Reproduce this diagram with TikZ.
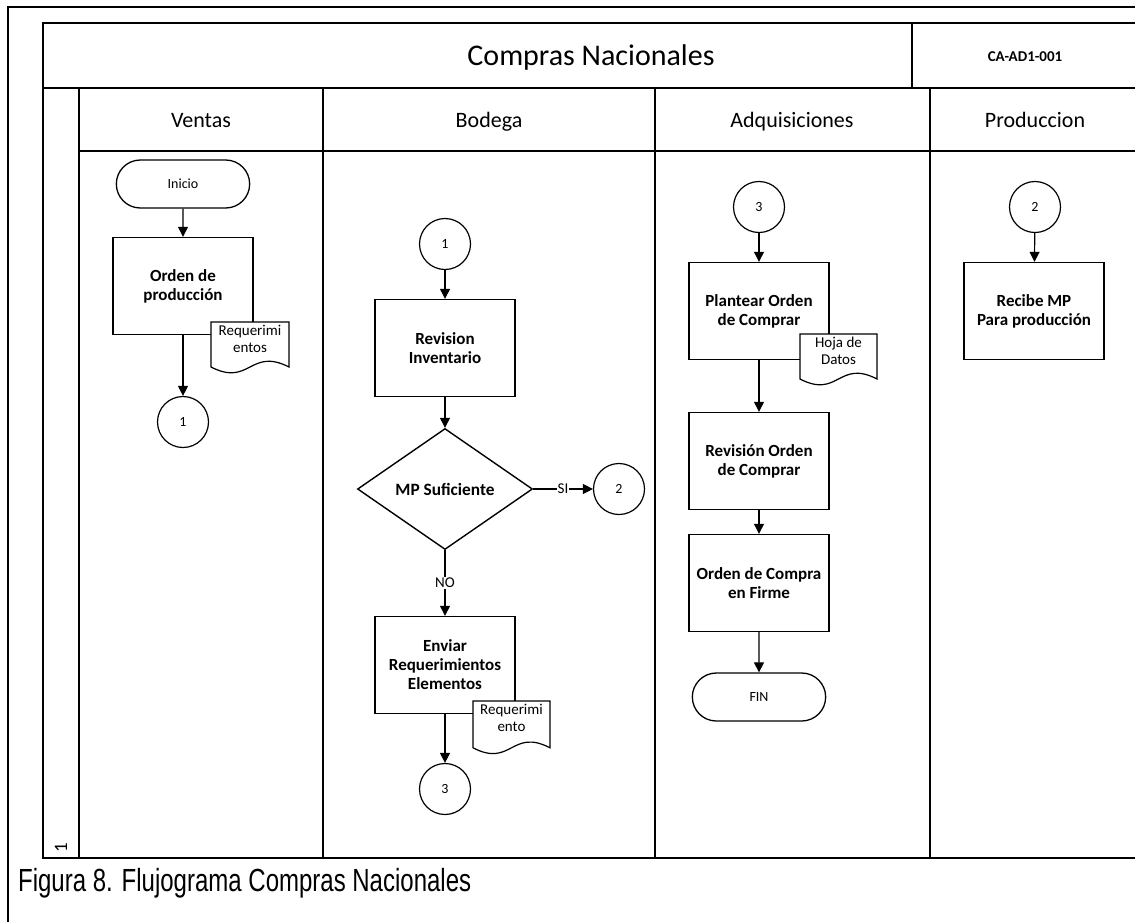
\documentclass[tikz,border=0pt]{standalone}
\usepackage{fontspec}
\setmainfont{Carlito}
\newfontfamily\capfont{Liberation Sans}
\usetikzlibrary{arrows.meta,shapes.geometric,shapes.misc}
\tikzset{
  frame/.style={line width=1.6pt},
  lane/.style={line width=1.5pt},
  arr/.style={line width=1.2pt,-{Triangle[length=10pt,width=10pt]}},
  procbox/.style={draw,line width=1.4pt,fill=white,minimum width=140pt,minimum height=97pt,
    align=center,font=\fontsize{17}{19}\selectfont\bfseries,inner sep=2pt},
  term/.style={draw,line width=1.3pt,rounded rectangle,minimum width=140pt,minimum height=48pt,
    font=\fontsize{14}{16}\selectfont},
  conn/.style={draw,line width=1.2pt,circle,minimum size=51pt,inner sep=0pt,
    font=\fontsize{14}{16}\selectfont},
  decision/.style={draw,line width=1.4pt,diamond,aspect=1.45,minimum width=175pt,minimum height=121pt,
    inner sep=0pt,font=\fontsize{17.3}{19}\selectfont\bfseries},
  hdr/.style={font=\fontsize{22}{26}\selectfont,anchor=base},
  doctext/.style={align=center,font=\fontsize{15}{16.5}\selectfont,inner sep=0pt},
  lbl/.style={fill=white,inner sep=1pt,font=\fontsize{15}{17}\selectfont},
}
% document shape: #1 name, #2 left x, #3 top y, #4 width, #5 height, #6 text
\newcommand\docshp[6]{%
  \filldraw[line width=1.2pt,fill=white]
    (#2,#3) -- ++(#4,0) -- ++(0,{#5*0.9})
    .. controls ++({-#4*0.5},-20) and ++({#4*0.5},20) .. ++({-#4},0) -- cycle;
  \node[doctext,anchor=north] (#1) at ({#2+#4/2},{#3+3}) {#6};
}
\begin{document}
\begin{tikzpicture}[x=1pt,y=-1pt]
\useasboundingbox (0,0) rectangle (1135,922);
% outer frame
\draw[frame] (1135,7) -- (8,7) -- (8,922);
% inner frame
\draw[frame] (1135,23) -- (43,23) -- (43,858) -- (1135,858);
\draw[frame] (43,88) -- (1135,88);
\draw[frame] (912,23) -- (912,88);
\draw[lane] (79,151) -- (1135,151);
\draw[lane] (79,88) -- (79,858);
\draw[lane] (323,88) -- (323,858);
\draw[lane] (655,88) -- (655,858);
\draw[lane] (930,88) -- (930,858);
% titles
\node[font=\fontsize{30}{34}\selectfont,anchor=base] (title) at (591,65) {Compras Nacionales};
\node[font=\fontsize{15}{17}\selectfont\bfseries,anchor=base] (code) at (1025,61) {CA-AD1-001};
\node[hdr] (hv) at (201,127) {Ventas};
\node[hdr] (hb) at (489,127) {Bodega};
\node[hdr] (ha) at (792,127) {Adquisiciones};
\node[hdr] (hp) at (1035,127) {Produccion};
\node[rotate=90,font=\fontsize{19}{20}\selectfont] (pool) at (61,848) {1};
% Ventas
\node[term] (inicio) at (183,184) {Inicio};
\node[procbox] (orden) at (183,286) {Orden de\\producción};
\node[conn] (v1) at (183,422) {1};
\draw[arr] (inicio) -- (orden);
\draw[arr] (orden) -- (v1);
\docshp{doc1}{211}{322}{78}{50}{Requerimi\\entos}
% Bodega
\node[conn] (b1) at (445,244) {1};
\node[procbox] (revinv) at (445,348) {Revision\\Inventario};
\node[decision] (mp) at (445,489) {MP Suficiente};
\node[conn] (b2) at (619,489) {2};
\node[procbox] (enviar) at (445,665) {Enviar\\Requerimientos\\Elementos};
\node[conn] (b3) at (445,789) {3};
\draw[arr] (b1) -- (revinv);
\draw[arr] (revinv) -- (mp);
\draw[arr] (mp) -- node[lbl] {SI} (b2);
\draw[arr] (mp) -- node[lbl] {NO} (enviar);
\draw[arr] (enviar) -- (b3);
\docshp{doc2}{473}{701}{77}{52}{Requerimi\\ento}
% Adquisiciones
\node[conn] (a3) at (759,207) {3};
\node[procbox] (plantear) at (759,311) {Plantear Orden\\de Comprar};
\node[procbox] (revorden) at (759,461) {Revisión Orden\\de Comprar};
\node[procbox] (firme) at (759,583) {Orden de Compra\\en Firme};
\node[term] (fin) at (759,697) {FIN};
\draw[arr] (a3) -- (plantear);
\draw[arr] (plantear) -- (revorden);
\draw[arr] (revorden) -- (firme);
\draw[arr] (firme) -- (fin);
\docshp{doc3}{800}{334}{77}{50}{Hoja de\\Datos}
% Produccion
\node[conn] (p2) at (1035,207) {2};
\node[procbox] (recibe) at (1034,311) {Recibe MP\\Para producción};
\draw[arr] (p2) -- (recibe);
% caption
\node[anchor=base west,font=\capfont\fontsize{32}{34}\selectfont,xscale=0.75,inner sep=0pt] (cap) at (18,891) {Figura 8. Flujograma Compras Nacionales};
\end{tikzpicture}
\end{document}
